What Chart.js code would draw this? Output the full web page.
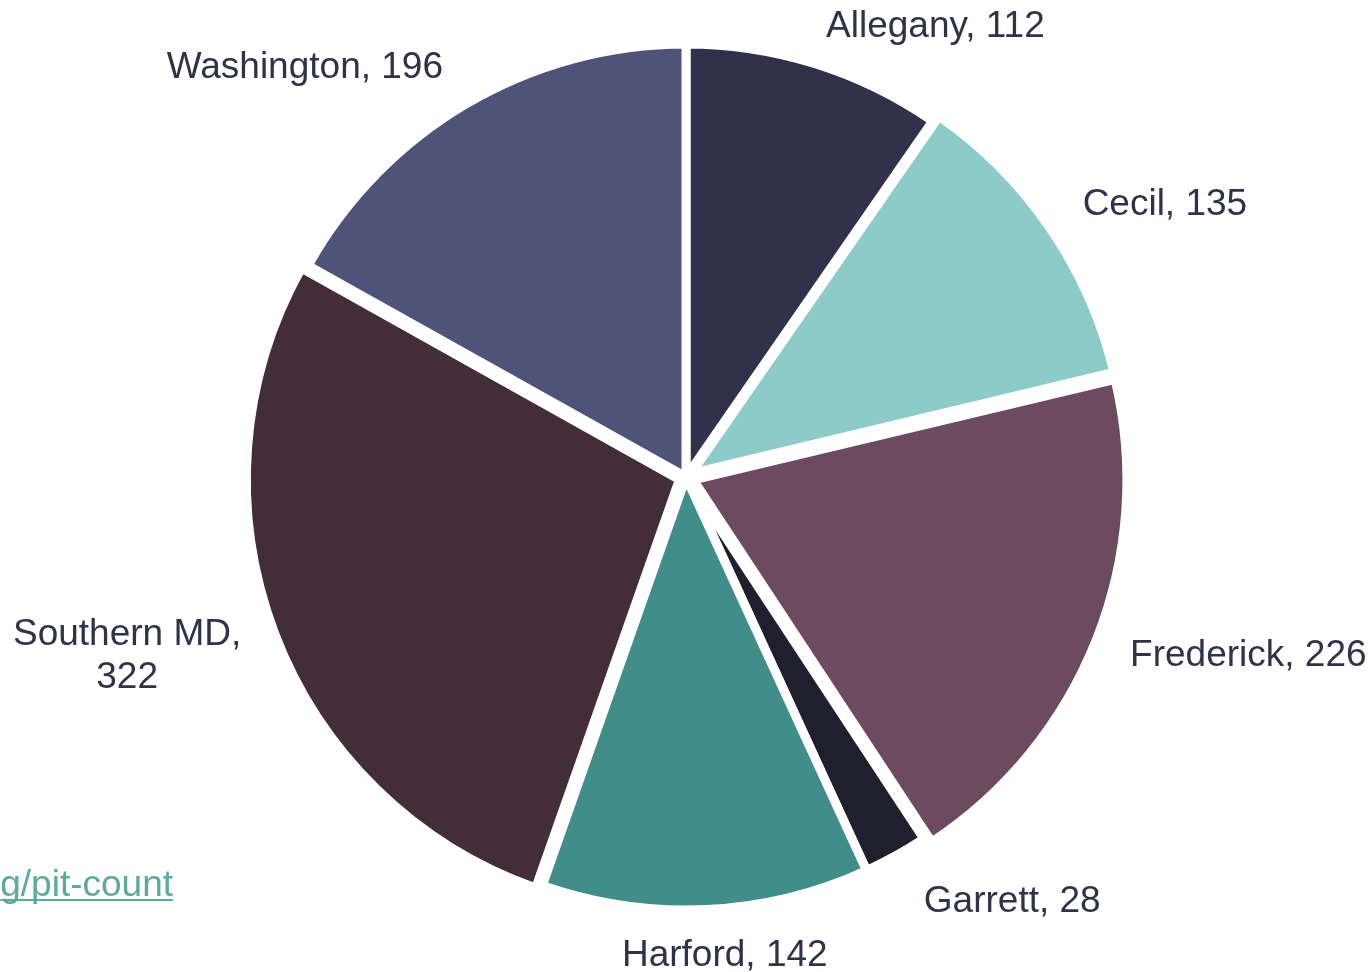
<!DOCTYPE html>
<html>
<head>
<meta charset="utf-8">
<script src="https://cdn.jsdelivr.net/npm/chart.js@4/dist/chart.umd.min.js"></script>
<style>
  body { margin: 0; background: #fff; }
  #wrap { width: 1370px; height: 972px; }
</style>
</head>
<body>
<div id="wrap"><canvas id="pie" width="1370" height="972"></canvas></div>
<script>
const counties = ["Allegany", "Cecil", "Frederick", "Garrett", "Harford", "Southern MD", "Washington"];
const counts = [112, 135, 226, 28, 142, 322, 196];
const sliceColors = ["#31314c", "#8dcbc9", "#6c4b60", "#1f1f2e", "#418d89", "#422d39", "#4f5279"];

// label placement: [angle shift in degrees, extra distance past the rim]
const labelNudge = [[11.6, 82], [4.7, 118], [-4, 157], [-8.5, 103], [-2, 47], [2.9, 154], [-12.6, 126]];

const outsideLabels = {
    id: "outsideLabels",
    afterDatasetsDraw(chart) {
        const ctx = chart.ctx;
        const arcs = chart.getDatasetMeta(0).data;
        ctx.save();
        ctx.font = "37px 'Liberation Sans', Arial, sans-serif";
        ctx.fillStyle = "#303248";
        ctx.textAlign = "center";
        ctx.textBaseline = "middle";
        arcs.forEach((arc, i) => {
            const mid = (arc.startAngle + arc.endAngle) / 2 + labelNudge[i][0] * Math.PI / 180;
            const dist = arc.outerRadius + labelNudge[i][1];
            const x = arc.x + Math.cos(mid) * dist;
            const y = arc.y + Math.sin(mid) * dist;
            const text = counties[i] + ", " + counts[i];
            if (ctx.measureText(text).width > 240 && counties[i].indexOf(" ") > 0) {
                ctx.fillText(counties[i] + ",", x, y - 21.5);
                ctx.fillText(String(counts[i]), x, y + 21.5);
            } else {
                ctx.fillText(text, x, y);
            }
        });
        // clipped source link at lower left
        ctx.fillStyle = "#5fa99c";
        ctx.textAlign = "right";
        ctx.textBaseline = "alphabetic";
        const link = "g/pit-count";
        ctx.fillText(link, 173, 896);
        const w = ctx.measureText(link).width;
        ctx.fillRect(173 - w, 899, w, 2);
        ctx.restore();
    }
};

new Chart(document.getElementById("pie"), {
    type: "pie",
    data: {
        labels: counties,
        datasets: [{
            data: counts,
            backgroundColor: sliceColors,
            borderColor: "#ffffff",
            borderWidth: 9,
            offset: [0, 24, 32, 0, 0, 28, 0],
            radius: 433
        }]
    },
    options: {
        responsive: false,
        animation: false,
        layout: { padding: { left: 2, right: 0, top: 0, bottom: 18 } },
        plugins: {
            legend: { display: false },
            tooltip: { enabled: false }
        }
    },
    plugins: [outsideLabels]
});
</script>
</body>
</html>
